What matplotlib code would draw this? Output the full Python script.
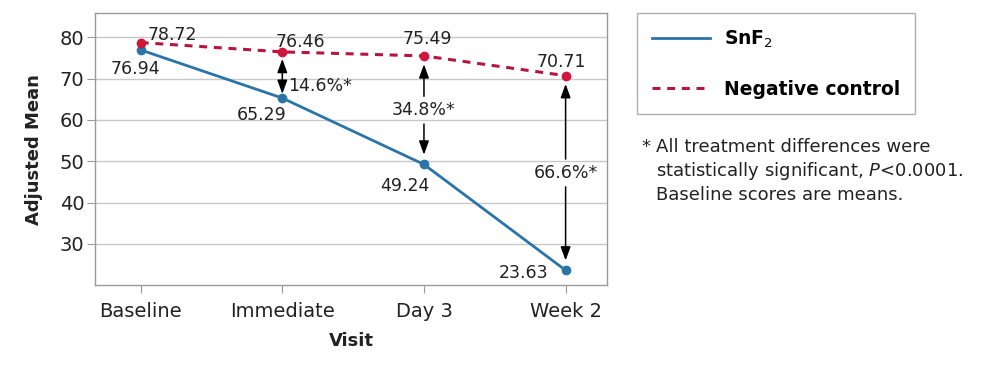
import matplotlib

matplotlib.use("Agg")
import matplotlib.pyplot as plt  # noqa: E402

# data
visits = ["Baseline", "Immediate", "Day 3", "Week 2"]
snf2 = [76.94, 65.29, 49.24, 23.63]
neg_control = [78.72, 76.46, 75.49, 70.71]
diff_labels = ["14.6%*", "34.8%*", "66.6%*"]
y_ticks = [30, 40, 50, 60, 70, 80]

BLUE = "#2b74a8"
RED_LINE = "#b3173f"
RED_DOT = "#d1163b"
GRID = "#c8c8c8"
FRAME = "#9a9a9a"
TXT = "#222222"

plt.rcParams["font.family"] = ["DejaVu Sans"]

fig = plt.figure(figsize=(9.86, 3.66), dpi=100)
ax = fig.add_axes([0.0967, 0.2205, 0.5186, 0.7432])

x = list(range(len(visits)))
ax.plot(x, snf2, color=BLUE, linewidth=2.0, marker="o", markersize=6,
        markerfacecolor=BLUE, markeredgecolor=BLUE, label="SnF$_2$", zorder=3)
ax.plot(x, neg_control, color=RED_LINE, linewidth=2.2, dashes=(2.6, 2.2),
        marker="o", markersize=6, markerfacecolor=RED_DOT,
        markeredgecolor=RED_DOT, label="Negative control", zorder=3)

ax.set_xlim(-0.32, 3.29)
ax.set_ylim(20, 85.8)
ax.set_yticks(y_ticks)
ax.set_xticks(x)
ax.set_xticklabels(visits)
ax.grid(True, axis="y", color=GRID, linewidth=1.0)
ax.set_axisbelow(True)
for s in ax.spines.values():
    s.set_color(FRAME)
    s.set_linewidth(1.0)
ax.tick_params(axis="both", colors=FRAME, labelcolor=TXT, labelsize=14,
               length=6, width=0.8)
ax.tick_params(axis="x", pad=6)
ax.tick_params(axis="y", pad=2)

ax.set_ylabel("Adjusted Mean", fontsize=13, fontweight="bold", color=TXT,
              labelpad=12)
ax.set_xlabel("Visit", fontsize=13, fontweight="bold", color=TXT, labelpad=8)

# value labels, offsets in pixels from each point
red_off = [(7, 8, "left"), (18, 10, "center"), (3, 17, "center"), (-4, 14, "center")]
blue_off = [(-5, -19, "center"), (-21, -17, "center"), (-19, -22, "center"),
            (-17, -3, "right")]
for i in x:
    dx, dy, ha = red_off[i]
    ax.annotate(f"{neg_control[i]:.2f}", (i, neg_control[i]), xytext=(dx, dy),
                textcoords="offset pixels", ha=ha, va="center", fontsize=12.5,
                color=TXT)
    dx, dy, ha = blue_off[i]
    ax.annotate(f"{snf2[i]:.2f}", (i, snf2[i]), xytext=(dx, dy),
                textcoords="offset pixels", ha=ha, va="center", fontsize=12.5,
                color=TXT)

arrow = dict(arrowstyle="-|>,head_length=0.55,head_width=0.2", color="black",
             lw=1.1, mutation_scale=15)

# Immediate: short double arrow with label beside it
ax.annotate("", xy=(1, snf2[1]), xytext=(1, neg_control[1]),
            arrowprops=dict(arrow, arrowstyle="<|-|>,head_length=0.55,head_width=0.2",
                            shrinkA=5, shrinkB=3))
mid1 = (snf2[1] + neg_control[1]) / 2
ax.annotate(diff_labels[0], (1, mid1), xytext=(6, -11),
            textcoords="offset pixels", ha="left", va="center", fontsize=12.5,
            color=TXT)

# Day 3 and Week 2: label in the middle, arrows out to both points
for k, i in enumerate([2, 3], start=1):
    mid = (snf2[i] + neg_control[i]) / 2
    ax.text(i, mid, diff_labels[k], ha="center", va="center", fontsize=12.5,
            color=TXT)
    ax.annotate("", xy=(i, neg_control[i]), xytext=(i, mid),
                arrowprops=dict(arrow, shrinkA=10, shrinkB=6))
    ax.annotate("", xy=(i, snf2[i]), xytext=(i, mid),
                arrowprops=dict(arrow, shrinkA=10, shrinkB=7))

leg = fig.legend(loc="upper left", bbox_to_anchor=(636.7 / 986, 1 - 13.3 / 366),
                 borderaxespad=0, prop={"weight": "bold", "size": 13.5},
                 handlelength=3.1, handletextpad=0.75, labelspacing=1.6,
                 borderpad=0.8, frameon=True, fancybox=False)
leg.get_frame().set_edgecolor(FRAME)
leg.get_frame().set_linewidth(1.0)
for h in leg.legend_handles:
    h.set_marker("")
for t in leg.get_texts():
    t.set_color("black")

note = [
    "All treatment differences were",
    "statistically significant, $\\it{P}$<0.0001.",
    "Baseline scores are means.",
]
fig.text(641 / 986, 1 - 147 / 366, "*", fontsize=13, color=TXT, va="center")
for j, line in enumerate(note):
    fig.text(655.7 / 986, 1 - (147 + 24 * j) / 366, line, fontsize=13,
             color=TXT, va="center")

fig.savefig("out.png", dpi=100)
